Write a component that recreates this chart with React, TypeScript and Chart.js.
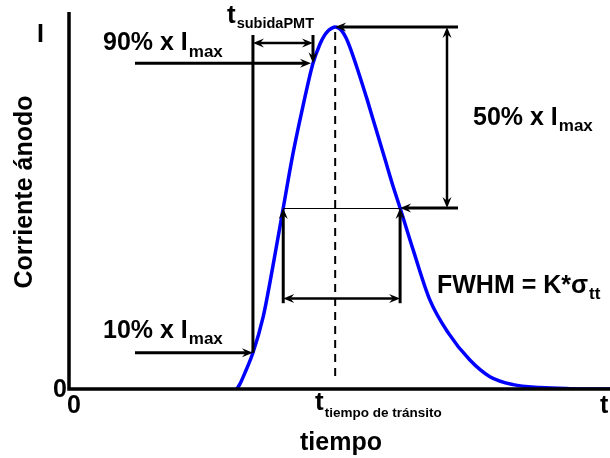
import { useEffect, useRef } from 'react';
import { Chart, registerables } from 'chart.js';

Chart.register(...registerables);

// Pulse (time in arbitrary units 0..100, current relative to Imax)
const tiempo = [31.0, 31.6, 32.5, 34.0, 35.9, 37.7, 39.6, 41.4, 43.3, 45.1, 46.4, 47.2, 48.0, 48.6, 49.2, 49.8, 50.5, 51.2, 51.9, 53.4, 55.1, 56.7, 58.4, 59.9, 61.2, 63.6, 66.7, 70.1, 74.1, 77.8, 82.1, 87.1, 92.6, 100];
const corriente = [0, 0.014, 0.044, 0.10, 0.20, 0.34, 0.50, 0.65, 0.785, 0.90, 0.953, 0.976, 0.991, 0.997, 1.0, 0.997, 0.988, 0.97, 0.945, 0.88, 0.80, 0.72, 0.635, 0.56, 0.50, 0.385, 0.246, 0.155, 0.08, 0.034, 0.012, 0.004, 0.001, 0];

// Characteristic times and levels
const tiemposClave = { t10: 34.0, t90: 45.1, tPico: 49.2, tMitadIzq: 39.6, tMitadDer: 61.2 };
const niveles = { n10: 0.1, n50: 0.5, n90: 0.9, nMax: 1.0 };
const ejeX = { min: 0, max: 100 };
const ejeY = { min: 0, max: 1.0414 };

const FONT = '"Liberation Sans", Arial, Helvetica, sans-serif';

function head(ctx: CanvasRenderingContext2D, x: number, y: number, ang: number, len = 11, half = 4.5) {
  ctx.save();
  ctx.translate(x, y);
  ctx.rotate(ang);
  ctx.beginPath();
  ctx.moveTo(0, 0);
  ctx.lineTo(-len, -half);
  ctx.lineTo(-len * 0.65, 0);
  ctx.lineTo(-len, half);
  ctx.closePath();
  ctx.fill();
  ctx.restore();
}

function seg(ctx: CanvasRenderingContext2D, x1: number, y1: number, x2: number, y2: number, w: number, startHead = false, endHead = false) {
  const ang = Math.atan2(y2 - y1, x2 - x1);
  const c = Math.cos(ang), s = Math.sin(ang);
  const sh = 7;
  const ax = startHead ? x1 + c * sh : x1;
  const ay = startHead ? y1 + s * sh : y1;
  const bx = endHead ? x2 - c * sh : x2;
  const by = endHead ? y2 - s * sh : y2;
  ctx.lineWidth = w;
  ctx.beginPath();
  ctx.moveTo(ax, ay);
  ctx.lineTo(bx, by);
  ctx.stroke();
  if (endHead) head(ctx, x2, y2, ang);
  if (startHead) head(ctx, x1, y1, ang + Math.PI);
}

function subText(ctx: CanvasRenderingContext2D, main: string, sub: string, x: number, y: number, size: number, subSize: number, dy: number) {
  ctx.font = `bold ${size}px ${FONT}`;
  ctx.textAlign = 'left';
  ctx.textBaseline = 'alphabetic';
  ctx.fillText(main, x, y);
  const w = ctx.measureText(main).width;
  ctx.font = `bold ${subSize}px ${FONT}`;
  ctx.fillText(sub, x + w + 1, y + dy);
}

const diagramPlugin = {
  id: 'diagram',
  afterDatasetsDraw(chart: any) {
    const ctx: CanvasRenderingContext2D = chart.ctx;
    const xs = chart.scales.x;
    const ys = chart.scales.y;
    const X = (v: number) => xs.getPixelForValue(v);
    const Y = (v: number) => ys.getPixelForValue(v);
    const ca = chart.chartArea;
    ctx.save();
    ctx.strokeStyle = '#000';
    ctx.fillStyle = '#000';
    ctx.lineCap = 'butt';

    // axes
    ctx.lineWidth = 3.5;
    ctx.beginPath();
    ctx.moveTo(ca.left, ca.top);
    ctx.lineTo(ca.left, ca.bottom);
    ctx.lineTo(ca.right, ca.bottom);
    ctx.stroke();

    const { t10, t90, tPico, tMitadIzq, tMitadDer } = tiemposClave;
    const { n10, n50, n90, nMax } = niveles;

    // dashed peak line
    ctx.save();
    ctx.setLineDash([8, 6]);
    ctx.lineWidth = 2;
    ctx.beginPath();
    ctx.moveTo(X(tPico), Y(nMax) + 5);
    ctx.lineTo(X(tPico), ca.bottom - 9);
    ctx.stroke();
    ctx.restore();

    // rise time construction
    seg(ctx, X(t10), ca.top + 23, X(t10), Y(n10), 3);
    seg(ctx, 135, Y(n10), X(t10), Y(n10), 3, false, true);
    seg(ctx, 135, Y(n90), X(t90) - 2, Y(n90), 3, false, true);
    seg(ctx, X(t90), ca.top + 23, X(t90), Y(n90), 3, false, true);
    seg(ctx, X(t10), ca.top + 31, X(t90), ca.top + 31, 2.5, true, true);

    // 50% x Imax construction
    const xr = 458;
    seg(ctx, xr, Y(nMax), X(tPico), Y(nMax), 3, false, true);
    seg(ctx, xr, Y(n50), X(tMitadDer), Y(n50), 3, false, true);
    const yh = Math.round(Y(n50)) + 0.5;
    seg(ctx, X(tMitadIzq), yh, X(tMitadDer), yh, 1.2);
    seg(ctx, 447, Y(nMax), 447, Y(n50), 2.5, true, true);

    // FWHM construction
    const yb = Y(0.237);
    seg(ctx, X(tMitadIzq), yb, X(tMitadIzq), Y(n50), 3, false, true);
    seg(ctx, X(tMitadDer), yb, X(tMitadDer), Y(n50), 3, false, true);
    seg(ctx, X(tMitadIzq), Y(0.25), X(tMitadDer), Y(0.25), 2.5, true, true);

    // texts
    subText(ctx, '90% x I', 'max', 103, 50, 25, 17, 7);
    subText(ctx, '10% x I', 'max', 103, 338, 25, 17, 6);
    subText(ctx, '50% x I', 'max', 473, 125, 25, 17, 6);
    subText(ctx, 'FWHM = K*σ', 'tt', 437, 293, 25, 17, 6);
    subText(ctx, 't', 'subidaPMT', 227, 23, 26, 14.5, 5);
    subText(ctx, 't', 'tiempo de tránsito', 315, 410, 26, 13.5, 7);

    ctx.font = `bold 25px ${FONT}`;
    ctx.textAlign = 'left';
    ctx.fillText('I', 37, 42);
    ctx.fillText('0', 53, 397);
    ctx.fillText('0', 67, 413);
    ctx.fillText('t', 600, 413);
    ctx.textAlign = 'center';
    ctx.fillText('tiempo', 341, 450);

    ctx.save();
    ctx.translate(32, 192);
    ctx.rotate(-Math.PI / 2);
    ctx.textAlign = 'center';
    ctx.fillText('Corriente ánodo', 0, 0);
    ctx.restore();

    ctx.restore();
  },
};

export default function App() {
  const ref = useRef<HTMLCanvasElement | null>(null);
  useEffect(() => {
    if (!ref.current) return;
    const chart = new Chart(ref.current, {
      type: 'line',
      data: {
        datasets: [
          {
            data: tiempo.map((t, i) => ({ x: t, y: corriente[i] })),
            borderColor: '#0000ff',
            borderWidth: 3.5,
            pointRadius: 0,
            cubicInterpolationMode: 'monotone',
            fill: false,
          },
        ],
      },
      options: {
        responsive: false,
        animation: false,
        devicePixelRatio: 1,
        layout: { padding: { left: 69, top: 12, right: 0, bottom: 69 } },
        plugins: { legend: { display: false }, tooltip: { enabled: false } },
        scales: {
          x: { type: 'linear', min: ejeX.min, max: ejeX.max, display: false },
          y: { type: 'linear', min: ejeY.min, max: ejeY.max, display: false },
        },
      },
      plugins: [diagramPlugin],
    });
    return () => chart.destroy();
  }, []);
  return (
    <div style={{ position: 'fixed', left: 0, top: 0, width: 610, height: 458, background: '#fff' }}>
      <canvas ref={ref} width={610} height={458} />
    </div>
  );
}
